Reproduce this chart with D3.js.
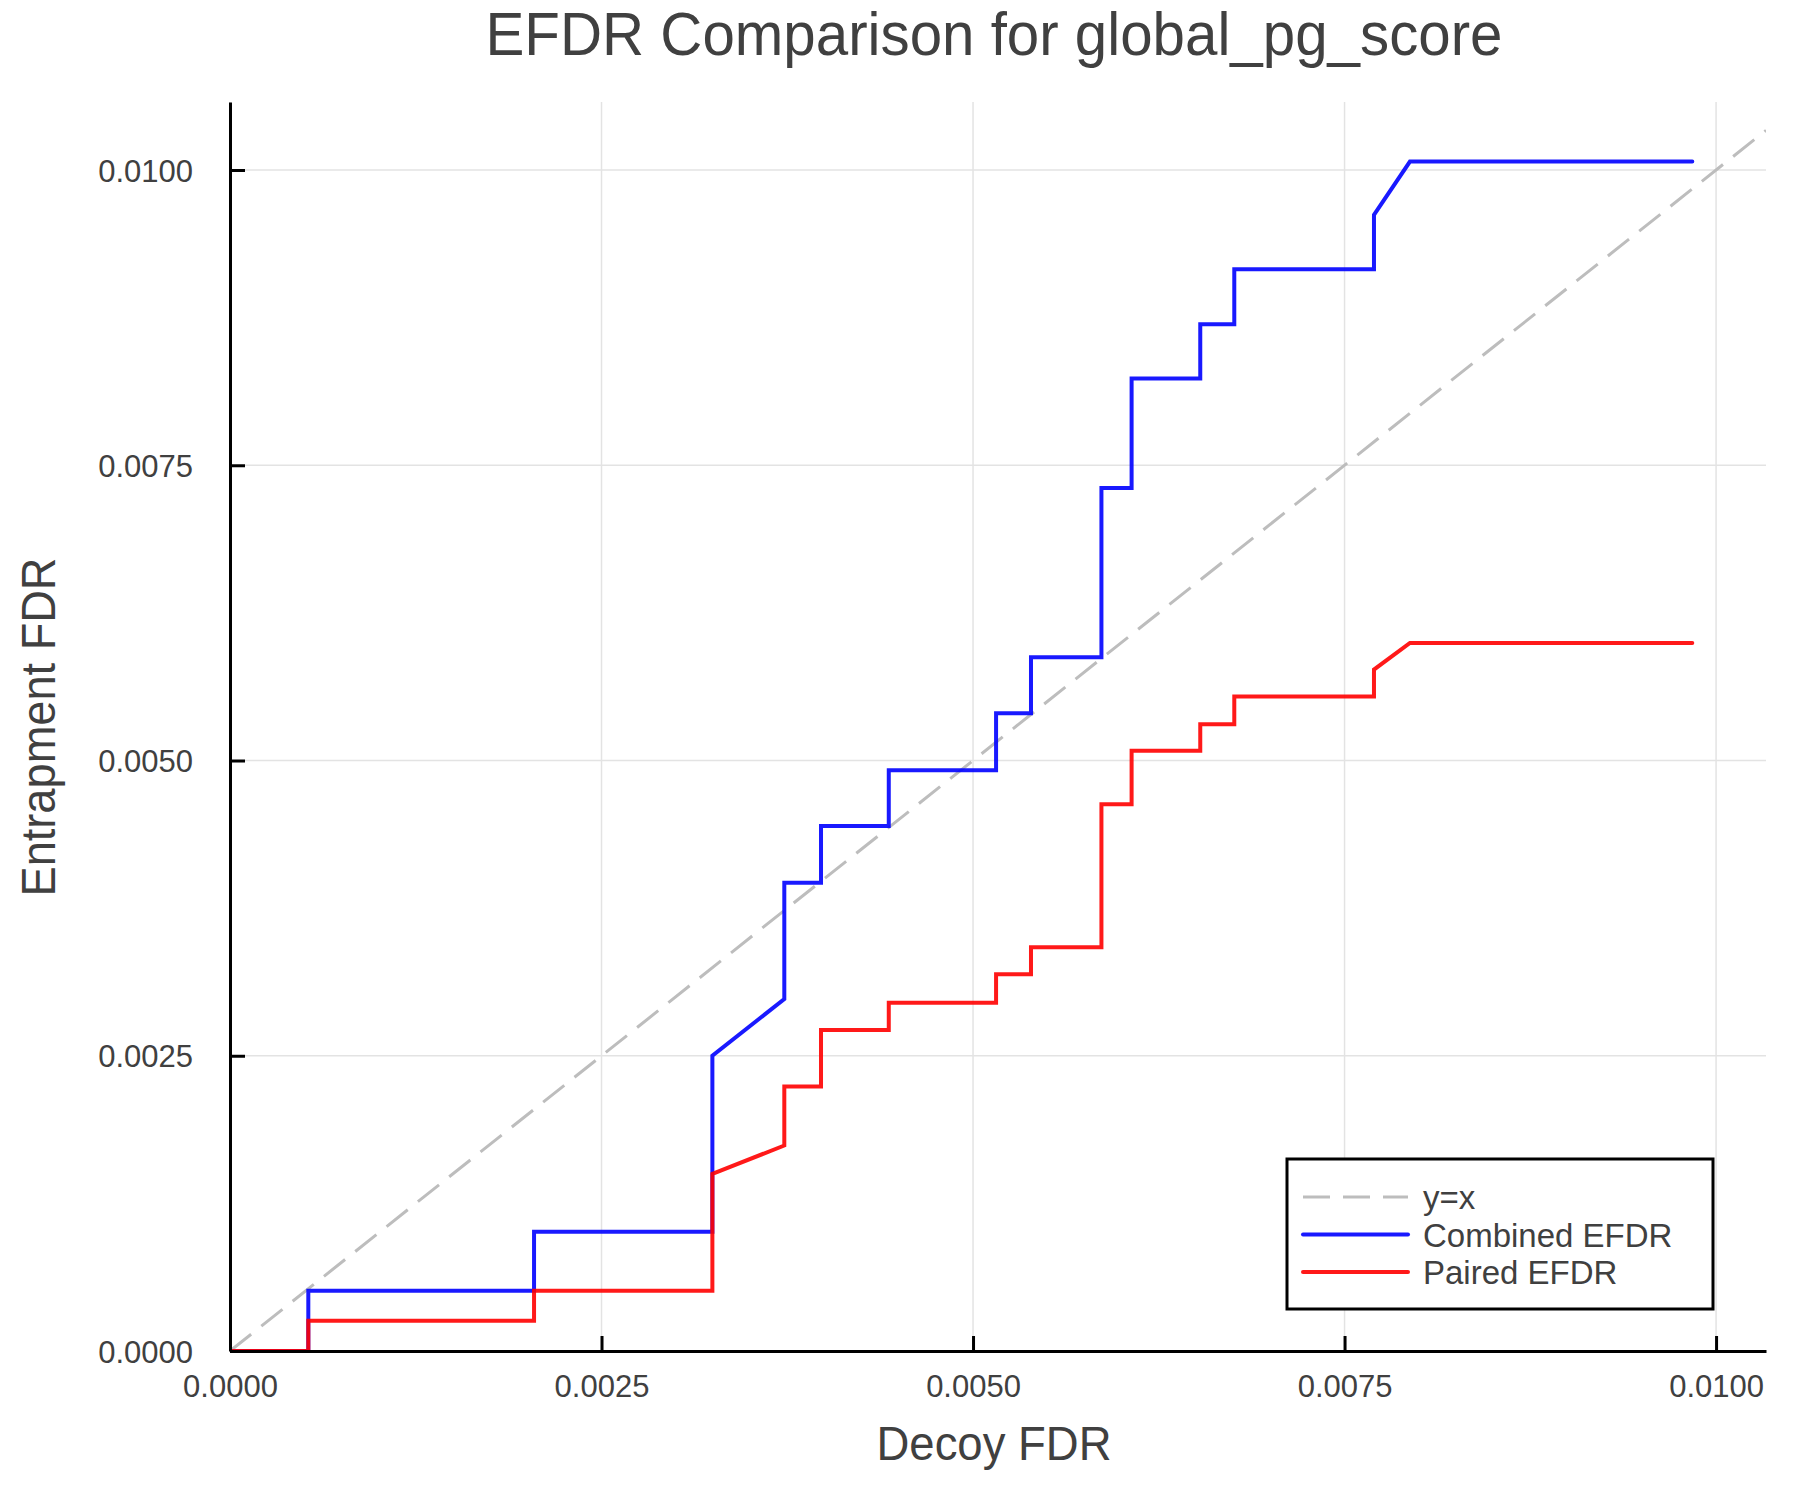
<!DOCTYPE html>
<html>
<head>
<meta charset="utf-8">
<script src="https://cdn.jsdelivr.net/npm/d3@7"></script>
<style>
  body { margin: 0; background: #fff; }
  text { font-family: "Liberation Sans", Arial, Helvetica, sans-serif; fill: #404040; }
</style>
</head>
<body>
<svg id="chart" width="1800" height="1500"></svg>
<script>
// decoy FDR (x) shared by both curves
var decoyFdr = [0, 0.000527, 0.000527, 0.002046, 0.002046, 0.003246, 0.003246, 0.00373, 0.00373,
  0.003977, 0.003977, 0.004433, 0.004433, 0.005155, 0.005155, 0.00539, 0.00539, 0.005864, 0.005864,
  0.006067, 0.006067, 0.006529, 0.006529, 0.006758, 0.006758, 0.007698, 0.007698, 0.00794, 0.00984];

// entrapment FDR, combined method
var combinedEfdr = [0, 0, 0.00051, 0.00051, 0.00101, 0.00101, 0.0025, 0.00298, 0.003966,
  0.003966, 0.004445, 0.004445, 0.004918, 0.004918, 0.0054, 0.0054, 0.005875, 0.005875, 0.007307,
  0.007307, 0.008234, 0.008234, 0.008694, 0.008694, 0.00916, 0.00916, 0.00962, 0.010072, 0.010072];

// entrapment FDR, paired method
var pairedEfdr = [0, 0, 0.000257, 0.000257, 0.00051, 0.00051, 0.0015, 0.00174, 0.00224,
  0.00224, 0.002718, 0.002718, 0.002949, 0.002949, 0.00319, 0.00319, 0.003419, 0.003419, 0.004629,
  0.004629, 0.005083, 0.005083, 0.005307, 0.005307, 0.005543, 0.005543, 0.00577, 0.005995, 0.005995];

var tickValues = [0, 0.0025, 0.005, 0.0075, 0.01];
var xMax = 0.010336, yMax = 0.010576;

var seriesNames = ['y=x', 'Combined EFDR', 'Paired EFDR'];

/////////////////////////////////////////////////////////////////
var margin = {top: 102, bottom: 149, left: 230, right: 34};
var width = 1800, height = 1500;

var svg = d3.select('#chart');

var xScale = d3.scaleLinear()
  .domain([0, xMax])
  .range([margin.left, width - margin.right]);

var yScale = d3.scaleLinear()
  .domain([0, yMax])
  .range([height - margin.bottom, margin.top]);

svg.append('clipPath').attr('id', 'plot-clip')
  .append('rect')
  .attr('x', xScale(0)).attr('y', yScale(yMax))
  .attr('width', xScale(xMax) - xScale(0))
  .attr('height', yScale(0) - yScale(yMax));

// grid
var grid = svg.append('g').attr('stroke', '#e3e3e3').attr('stroke-width', 1.5);
grid.selectAll('.gx').data(tickValues).enter().append('line')
  .attr('x1', d => xScale(d)).attr('x2', d => xScale(d))
  .attr('y1', yScale(0)).attr('y2', yScale(yMax));
grid.selectAll('.gy').data(tickValues).enter().append('line')
  .attr('y1', d => yScale(d)).attr('y2', d => yScale(d))
  .attr('x1', xScale(0)).attr('x2', xScale(xMax));

// series
var plot = svg.append('g').attr('clip-path', 'url(#plot-clip)');

plot.append('path')
  .datum([0, xMax])
  .attr('d', d3.line().x(d => xScale(d)).y(d => yScale(d)))
  .attr('fill', 'none')
  .attr('stroke', '#bdbdbd')
  .attr('stroke-width', 3)
  .attr('stroke-dasharray', '27,13');

var line = d3.line()
  .x(d => xScale(d[0]))
  .y(d => yScale(d[1]));

plot.append('path')
  .datum(d3.zip(decoyFdr, combinedEfdr))
  .attr('d', line)
  .attr('fill', 'none')
  .attr('stroke', 'blue')
  .attr('stroke-opacity', 0.9)
  .attr('stroke-width', 4)
  .attr('stroke-linecap', 'round');

plot.append('path')
  .datum(d3.zip(decoyFdr, pairedEfdr))
  .attr('d', line)
  .attr('fill', 'none')
  .attr('stroke', 'red')
  .attr('stroke-opacity', 0.9)
  .attr('stroke-width', 4)
  .attr('stroke-linecap', 'round');

// axes
var fmt = d3.format('.4f');
var xAxis = d3.axisBottom(xScale).tickValues(tickValues).tickFormat(fmt)
  .tickSizeInner(-15).tickSizeOuter(0).tickPadding(24);
var yAxis = d3.axisLeft(yScale).tickValues(tickValues).tickFormat(fmt)
  .tickSizeInner(-15).tickSizeOuter(0).tickPadding(37);

var gx = svg.append('g')
  .attr('transform', 'translate(' + [0, yScale(0)] + ')')
  .call(xAxis);
var gy = svg.append('g')
  .attr('transform', 'translate(' + [xScale(0), 0] + ')')
  .call(yAxis);

[gx, gy].forEach(g => {
  g.select('.domain').attr('stroke', '#000').attr('stroke-width', 3);
  g.selectAll('.tick line').attr('stroke', '#000').attr('stroke-width', 3);
  g.selectAll('.tick text').attr('font-size', 31).attr('font-family', null).attr('fill', '#404040');
});
gy.selectAll('.tick text').attr('dy', '0.36em');

// title & labels
svg.append('text')
  .attr('x', 994).attr('y', 55)
  .attr('text-anchor', 'middle')
  .attr('font-size', 62)
  .attr('textLength', 1017).attr('lengthAdjust', 'spacingAndGlyphs')
  .text('EFDR Comparison for global_pg_score');

svg.append('text')
  .attr('x', 994).attr('y', 1460)
  .attr('text-anchor', 'middle')
  .attr('font-size', 48)
  .attr('textLength', 235).attr('lengthAdjust', 'spacingAndGlyphs')
  .text('Decoy FDR');

svg.append('text')
  .attr('transform', 'translate(55,727) rotate(-90)')
  .attr('text-anchor', 'middle')
  .attr('font-size', 48)
  .attr('textLength', 339).attr('lengthAdjust', 'spacingAndGlyphs')
  .text('Entrapment FDR');

// legend
var legend = svg.append('g').attr('transform', 'translate(1287,1159)');
legend.append('rect')
  .attr('width', 426).attr('height', 150)
  .attr('fill', '#fff').attr('stroke', '#000').attr('stroke-width', 3);

var legendStyles = [
  {stroke: '#bdbdbd', dash: '27,13', width: 3},
  {stroke: 'blue', dash: null, width: 4},
  {stroke: 'red', dash: null, width: 4}
];
var rows = legend.selectAll('.row').data(seriesNames).enter().append('g')
  .attr('transform', (d, i) => 'translate(0,' + (38 + i * 37.5) + ')');
rows.append('line')
  .attr('x1', 16).attr('x2', 121)
  .attr('stroke', (d, i) => legendStyles[i].stroke)
  .attr('stroke-opacity', (d, i) => i ? 0.9 : 1)
  .attr('stroke-width', (d, i) => legendStyles[i].width)
  .attr('stroke-dasharray', (d, i) => legendStyles[i].dash)
  .attr('stroke-linecap', (d, i) => i ? 'round' : 'butt');
rows.append('text')
  .attr('x', 136).attr('y', 12)
  .attr('font-size', 33)
  .text(d => d);
</script>
</body>
</html>
